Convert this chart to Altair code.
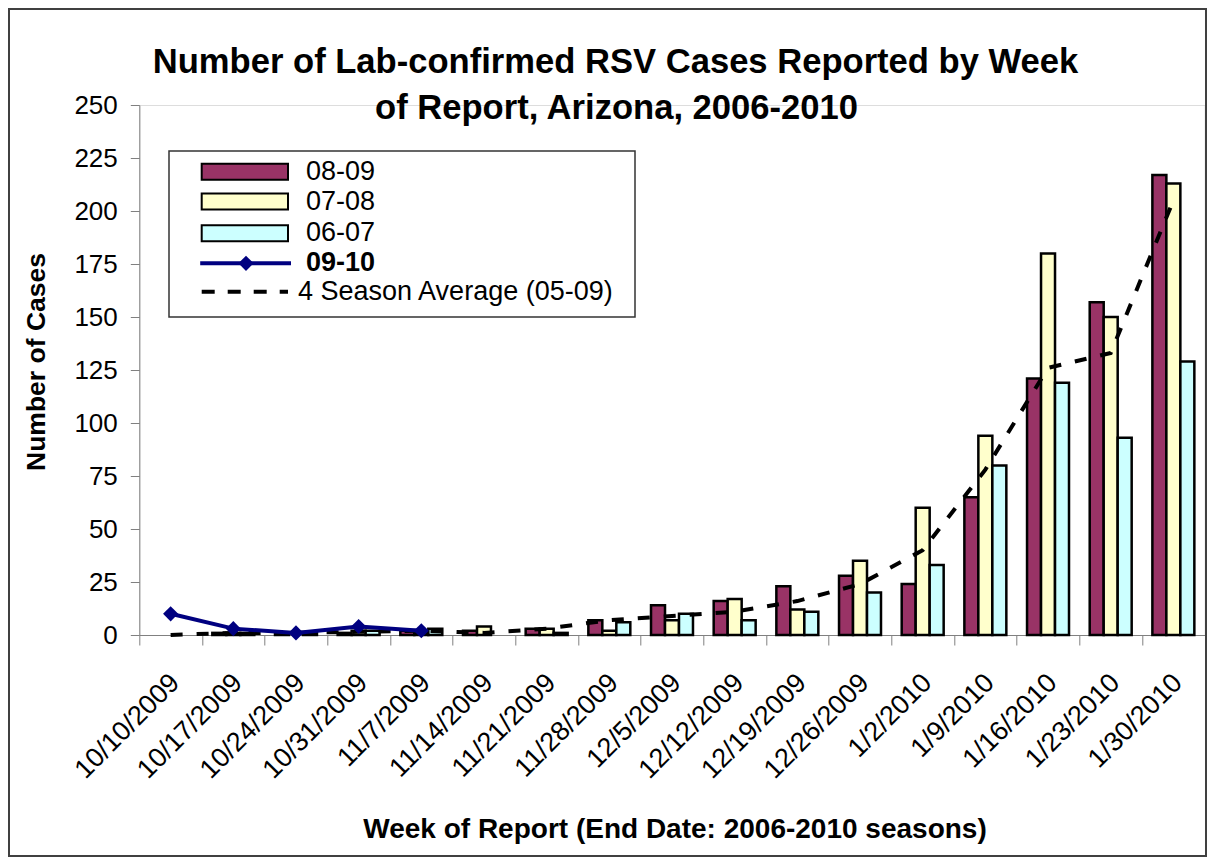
import altair as alt
import pandas as pd

# ---------------- data ----------------
weeks = ["10/10/2009", "10/17/2009", "10/24/2009", "10/31/2009", "11/7/2009",
         "11/14/2009", "11/21/2009", "11/28/2009", "12/5/2009", "12/12/2009",
         "12/19/2009", "12/26/2009", "1/2/2010", "1/9/2010", "1/16/2010",
         "1/23/2010", "1/30/2010"]
s0809 = [0, 1, 1, 1, 2, 2, 3, 7, 14, 16, 23, 28, 24, 65, 121, 157, 217]
s0708 = [0, 1, 0, 2, 1, 4, 3, 2, 7, 17, 12, 35, 60, 94, 180, 150, 213]
s0607 = [0, 1, 1, 2, 3, 0, 1, 6, 10, 7, 11, 20, 33, 80, 119, 93, 129]
s0910 = [10, 3, 1, 4, 2]
avg4 = [0, 1, 1, 1.5, 2, 1, 3, 7, 9, 11, 16, 24, 40, 78, 126, 133, 205]

series_names = ["08-09", "07-08", "06-07"]
bar_colors = ["#993366", "#FFFFCC", "#CCFFFF"]
line_name = "09-10"
avg_name = "4 Season Average (05-09)"
title_lines = ["Number of Lab-confirmed RSV Cases Reported by Week",
               "of Report, Arizona, 2006-2010"]
y_title = "Number of Cases"
x_title = "Week of Report (End Date: 2006-2010 seasons)"
y_ticks = [0, 25, 50, 75, 100, 125, 150, 175, 200, 225, 250]

rows = []
for name, vals in zip(series_names, [s0809, s0708, s0607]):
    for w, v in zip(weeks, vals):
        if v > 0:
            rows.append({"week": w, "season": name, "cases": v})
bars_df = pd.DataFrame(rows)
line_df = pd.DataFrame({"week": weeks[:len(s0910)], "cases": s0910})
avg_df = pd.DataFrame({"week": weeks, "cases": avg4})

# ---------------- layout ----------------
W = 1065.4
H = 530
PL, PT, PR, PB = 131.3, 97, 2.3, 222
STEP = W / len(weeks)
FONT = "Liberation Sans"

xscale = alt.Scale(domain=weeks, paddingInner=0, paddingOuter=0)
yscale = alt.Scale(domain=[0, 250])

x_axis = alt.Axis(title=None, labelAngle=-45, labelFontSize=27, labelFont=FONT,
                  labelColor="black", tickOffset=-STEP / 2, labelOffset=STEP / 2 - 5,
                  tickSize=10, tickColor="#808080", domainColor="#808080",
                  labelPadding=24, labelAlign="right", labelBaseline="top",
                  labelOverlap=False, labelLimit=400, grid=False)
y_axis = alt.Axis(title=None, values=y_ticks, labelFontSize=26, labelFont=FONT,
                  labelColor="black", tickSize=9, tickColor="#808080",
                  domainColor="#808080", labelPadding=13, grid=False)

X = alt.X("week:N", scale=xscale, sort=weeks, axis=x_axis)
Y = alt.Y("cases:Q", scale=yscale, axis=y_axis)

bars = alt.Chart(bars_df).mark_bar(stroke="black", strokeWidth=2.5).encode(
    x=X,
    xOffset=alt.XOffset("season:N", sort=series_names,
                        scale=alt.Scale(domain=series_names, paddingInner=0, paddingOuter=0.74)),
    y=Y,
    fill=alt.Fill("season:N", scale=alt.Scale(domain=series_names, range=bar_colors), legend=None),
)

avg_line = alt.Chart(avg_df).mark_line(color="black", strokeWidth=4, strokeDash=[12, 14]).encode(x=X, y=Y)

line = alt.Chart(line_df).mark_line(
    color="#000080", strokeWidth=4,
    point=alt.OverlayMarkDef(shape="diamond", size=230, filled=True, color="#000080")
).encode(x=X, y=Y)

one = pd.DataFrame({"t": [""]})


def txt(s, x, y, size, bold=False, align="left", baseline="middle", angle=0):
    kw = dict(fontSize=size, font=FONT, align=align, baseline=baseline, color="black",
              fontWeight="bold" if bold else "normal", text=s)
    if angle:
        kw["angle"] = angle
    return alt.Chart(one).mark_text(**kw).encode(x=alt.value(x), y=alt.value(y))


# outer frame
frame = alt.Chart(one).mark_rect(fillOpacity=0, stroke="#404040", strokeWidth=2).encode(
    x=alt.value(-PL + 1), x2=alt.value(W + PR - 1), y=alt.value(-PT + 1), y2=alt.value(H + PB - 1))

# titles
t1 = txt(title_lines[0], 476.2, -32.3, 34.6, bold=True, align="center", baseline="alphabetic")
t2 = txt(title_lines[1], 477.2, 14, 34.6, bold=True, align="center", baseline="alphabetic")
ty = txt(y_title, -94.3, 257, 26.5, bold=True, align="center", baseline="alphabetic", angle=270)
tx = txt(x_title, 535.7, 733, 28, bold=True, align="center", baseline="alphabetic")

# legend
LX0, LX1, LY0, LY1 = 29.7, 495.7, 46, 212
SW0, SW1 = 62.4, 148.7
TX = 166.7
rows_y = [66.7, 96.5, 128.3, 158.3, 186.7]

legend_layers = [
    alt.Chart(one).mark_rect(fill="white", stroke="#333333", strokeWidth=1.5).encode(
        x=alt.value(LX0), x2=alt.value(LX1), y=alt.value(LY0), y2=alt.value(LY1))
]
for name, col, yy in zip(series_names, bar_colors, rows_y[:3]):
    legend_layers.append(
        alt.Chart(one).mark_rect(fill=col, stroke="black", strokeWidth=2).encode(
            x=alt.value(SW0), x2=alt.value(SW1), y=alt.value(yy - 8), y2=alt.value(yy + 8)))
    legend_layers.append(txt(name, TX, yy, 27))
legend_layers.append(
    alt.Chart(one).mark_rule(stroke="#000080", strokeWidth=4).encode(
        x=alt.value(SW0 - 1.5), x2=alt.value(SW1 + 3), y=alt.value(rows_y[3])))
legend_layers.append(
    alt.Chart(one).mark_point(shape="diamond", size=230, filled=True, color="#000080", opacity=1).encode(
        x=alt.value(106.7), y=alt.value(rows_y[3])))
legend_layers.append(txt(line_name, TX, rows_y[3], 27, bold=True))
legend_layers.append(
    alt.Chart(one).mark_rule(stroke="black", strokeWidth=4, strokeDash=[13, 13]).encode(
        x=alt.value(SW0), x2=alt.value(SW1), y=alt.value(rows_y[4])))
legend_layers.append(txt(avg_name, 158.7, rows_y[4], 27))

chart = alt.layer(
    frame, bars, avg_line, line, t1, t2, ty, tx, *legend_layers
).properties(
    width=W, height=H,
    autosize=alt.AutoSizeParams(type="none"),
    padding={"left": PL, "top": PT, "right": PR, "bottom": PB},
    background="white",
).configure_view(stroke="transparent").configure(font=FONT)

chart.save("out.html", embed_options={"renderer": "svg", "actions": False})
